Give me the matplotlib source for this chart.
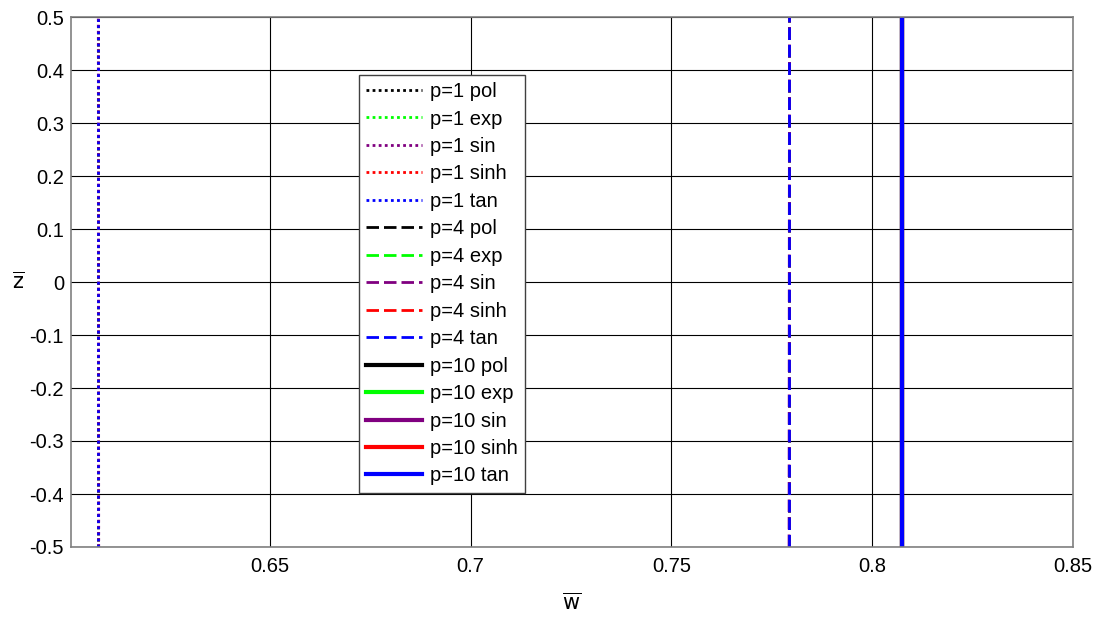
import numpy as np
import matplotlib.pyplot as plt

plt.rcParams['font.family'] = ['Liberation Sans', 'DejaVu Sans']

# nondimensional z range of the curves
z_vals = [-0.5, 0.5]

funcs = ['pol', 'exp', 'sin', 'sinh', 'tan']
colors = ['black', '#00ff00', '#800080', 'red', 'blue']

# w-bar positions (at z=-0.5, z=0.5) for each p and function
w_p1 = [[0.6073, 0.6073], [0.6073, 0.6073], [0.6074, 0.6073], [0.6073, 0.6073], [0.6073, 0.6073]]
w_p4 = [[0.7794, 0.7794], [0.7794, 0.7794], [0.7793, 0.7794], [0.7794, 0.7794], [0.7794, 0.7794]]
w_p10 = [[0.8075, 0.8075], [0.8075, 0.8075], [0.8075, 0.8075], [0.8075, 0.8075], [0.8075, 0.8075]]

p_vals = [1, 4, 10]
styles = [(0, (1, 1.2)), (0, (4.5, 1.8)), '-']
widths = [2.0, 2.0, 3.0]

fig = plt.figure(figsize=(11.01, 6.28), dpi=100)
ax = fig.add_axes([71 / 1101, 1 - 547 / 628, (1073 - 71) / 1101, (547 - 17) / 628])

for p, data, ls, lw in zip(p_vals, [w_p1, w_p4, w_p10], styles, widths):
    for f, c, w in zip(funcs, colors, data):
        ax.plot(w, z_vals, linestyle=ls, color=c, linewidth=lw,
                label='p={} {}'.format(p, f))

ax.set_xlim(0.6005, 0.85)
ax.set_ylim(-0.5, 0.5)
ax.set_xticks([0.65, 0.7, 0.75, 0.8, 0.85])
ax.set_xticklabels(['0.65', '0.7', '0.75', '0.8', '0.85'])
ax.set_yticks(np.arange(-0.5, 0.51, 0.1))
ax.set_yticklabels(['-0.5', '-0.4', '-0.3', '-0.2', '-0.1', '0', '0.1', '0.2', '0.3', '0.4', '0.5'])
ax.grid(True, color='black', linestyle='-', linewidth=0.8)
ax.set_axisbelow(True)
ax.tick_params(labelsize=14.5, length=0, pad=5)
ax.tick_params(axis='x', pad=7)
for s in ax.spines.values():
    s.set_color('#808080')
    s.set_linewidth(1.2)

ax.set_xlabel(r'$\overline{\mathrm{w}}$', fontsize=15, labelpad=12)
ax.set_ylabel(r'$\overline{\mathrm{z}}$', fontsize=15, rotation=0, labelpad=8, va='center')

leg = ax.legend(loc='upper left', bbox_to_anchor=((359 - 71) / 1002, (547 - 75) / 530),
                fontsize=14.5, handlelength=2.8, labelspacing=0.42, handletextpad=0.4,
                borderpad=0.35, borderaxespad=0, fancybox=False, framealpha=1)
leg.get_frame().set_edgecolor('#404040')

fig.savefig('out.png', dpi=100)
